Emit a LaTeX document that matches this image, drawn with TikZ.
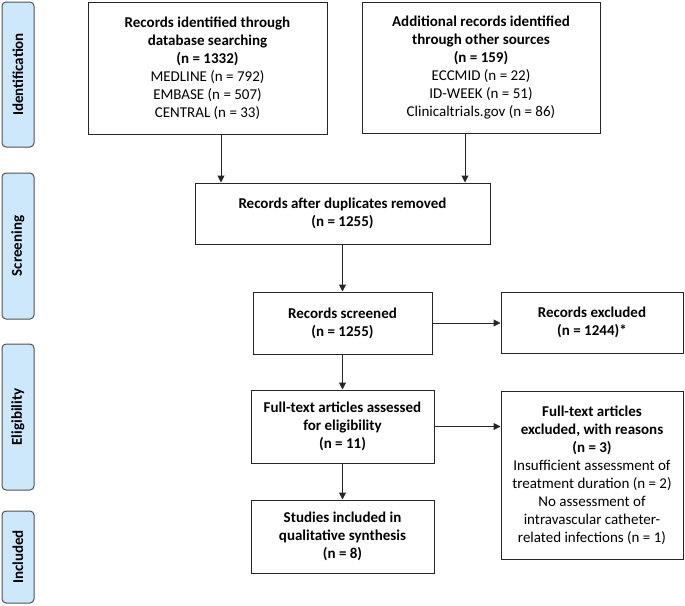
\documentclass[tikz,border=0pt]{standalone}
\usepackage{fontspec}
\setmainfont{Carlito}
\usetikzlibrary{arrows.meta}
\definecolor{phasefill}{HTML}{CCE8FA}
\definecolor{linegray}{HTML}{262626}
\begin{document}
\begin{tikzpicture}[x=1pt,y=-1pt,
  box/.style={draw=linegray, line width=1pt, fill=white, align=center, inner sep=0pt,
    font=\fontsize{15}{18}\selectfont},
  phase/.style={draw=linegray!80, line width=1pt, fill=phasefill, rounded corners=4pt,
    inner sep=0pt, rotate=90, minimum height=32pt, font=\bfseries\fontsize{15}{18}\selectfont},
  arr/.style={draw=linegray, line width=1pt, -{Triangle[length=7pt,width=7pt]}}]
\useasboundingbox (0,0) rectangle (685,605);
% phase bars
\node[phase, minimum width=145pt] (pid) at (18,74.5) {Identification};
\node[phase, minimum width=146pt] (psc) at (18,246) {Screening};
\node[phase, minimum width=146pt] (pel) at (18,417) {Eligibility};
\node[phase, minimum width=92pt] (pin) at (18,557) {Included};
% boxes
\node[box, minimum width=239pt, minimum height=132pt] (id1) at (207.5,68)
  {\textbf{Records identified through}\\\textbf{database searching}\\\textbf{(n = 1332)}\\MEDLINE (n = 792)\\EMBASE (n = 507)\\CENTRAL (n = 33)};
\node[box, minimum width=238pt, minimum height=131pt] (id2) at (481,67.5)
  {\textbf{Additional records identified}\\\textbf{through other sources}\\\textbf{(n = 159)}\\ECCMID (n = 22)\\ID-WEEK (n = 51)\\Clinicaltrials.gov (n = 86)};
\node[box, minimum width=295pt, minimum height=61pt] (dup) at (342.5,213.5)
  {\textbf{Records after duplicates removed}\\\textbf{(n = 1255)}};
\node[box, minimum width=179pt, minimum height=62pt] (scr) at (342.5,323)
  {\textbf{Records screened}\\\textbf{(n = 1255)}};
\node[box, minimum width=182pt, minimum height=61pt] (exc) at (592,322.5)
  {\textbf{Records excluded}\\\textbf{(n = 1244)*}};
\node[box, minimum width=183pt, minimum height=73pt] (ful) at (342.5,426.5)
  {\textbf{Full-text articles assessed}\\\textbf{for eligibility}\\\textbf{(n = 11)}};
\node[box, minimum width=182pt, minimum height=168pt] (fex) at (592,475)
  {\textbf{Full-text articles}\\\textbf{excluded, with reasons}\\\textbf{(n = 3)}\\Insufficient assessment of\\treatment duration (n = 2)\\No assessment of\\intravascular catheter-\\related infections (n = 1)};
\node[box, minimum width=183pt, minimum height=73pt] (inc) at (342.5,536.5)
  {\textbf{Studies included in}\\\textbf{qualitative synthesis}\\\textbf{(n = 8)}};
% connectors
\coordinate (a1) at (221,0);
\coordinate (a2) at (465,0);
\draw[arr] (id1.south -| a1) -- (dup.north -| a1);
\draw[arr] (id2.south -| a2) -- (dup.north -| a2);
\draw[arr] (dup.south) -- (scr.north);
\draw[arr] (scr.south) -- (ful.north);
\draw[arr] (ful.south) -- (inc.north);
\draw[arr] (scr.east) -- (scr.east -| exc.west);
\draw[arr] (ful.east) -- (ful.east -| fex.west);
\end{tikzpicture}
\end{document}
